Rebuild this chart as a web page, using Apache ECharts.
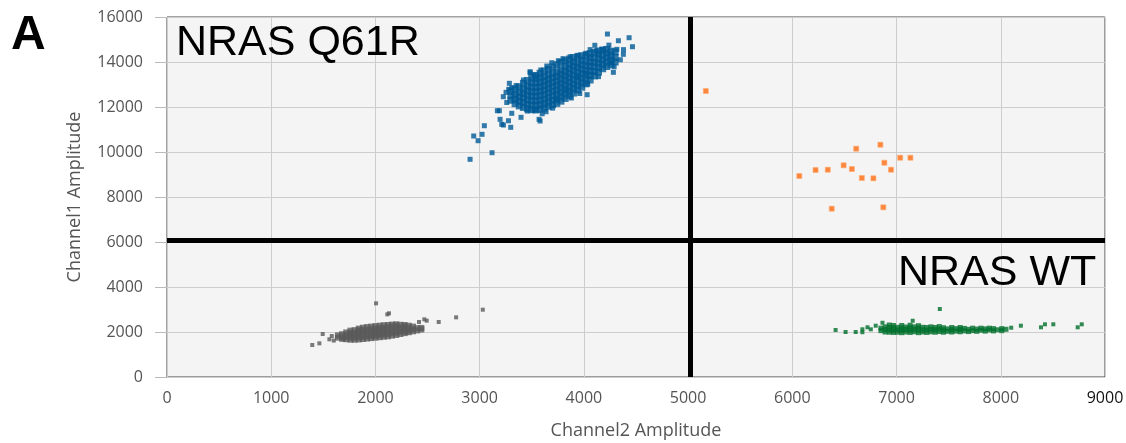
<!DOCTYPE html>
<html>
<head>
<meta charset="utf-8">
<script src="https://cdn.jsdelivr.net/npm/echarts@6/dist/echarts.min.js"></script>
<style>
html,body{margin:0;padding:0;background:#fff;}
#chart{width:1126px;height:443px;}
</style>
</head>
<body>
<div id="chart"></div>
<script>
// ---- axis ticks ----
const xTicks = [0, 1000, 2000, 3000, 4000, 5000, 6000, 7000, 8000, 9000];
const yTicks = [0, 2000, 4000, 6000, 8000, 10000, 12000, 14000, 16000];
const xAxisTitle = 'Channel2 Amplitude';
const yAxisTitle = 'Channel1 Amplitude';
// threshold lines: [Channel2, Channel1]
const thresholds = [5020, 6090];
const labelMut = 'NRAS Q61R';
const labelWt = 'NRAS WT';
const panelLabel = 'A';

// ---- blue cluster (Ch1+ only, NRAS Q61R) ----
// dense core: [channel2, [channel1 values]]
const blueCore = [
 [3300,[12300,12500,12700]],
 [3340,[12150,12350,12550,12800]],
 [3380,[12050,12250,12450,12650,12900]],
 [3420,[11980,12200,12400,12600,12800,13050]],
 [3460,[11920,12120,12320,12520,12720,12920,13180]],
 [3500,[11880,12080,12280,12480,12680,12880,13080,13300]],
 [3540,[11870,12070,12270,12470,12670,12870,13070,13270,13400]],
 [3580,[11900,12100,12300,12500,12700,12900,13100,13300,13500]],
 [3620,[11950,12150,12350,12550,12750,12950,13150,13350,13600]],
 [3660,[12030,12230,12430,12630,12830,13030,13230,13430,13680]],
 [3700,[12100,12300,12500,12700,12900,13100,13300,13500,13780]],
 [3740,[12160,12360,12560,12760,12960,13160,13360,13560,13880]],
 [3780,[12260,12460,12660,12860,13060,13260,13460,13660,13980]],
 [3820,[12380,12580,12780,12980,13180,13380,13580,13800,14060]],
 [3860,[12500,12700,12900,13100,13300,13500,13700,13900,14130]],
 [3900,[12620,12820,13020,13220,13420,13620,13820,14000,14200]],
 [3940,[12750,12950,13150,13350,13550,13750,13950,14230]],
 [3980,[12880,13080,13280,13480,13680,13880,14080,14280]],
 [4020,[13030,13230,13430,13630,13830,14030,14300]],
 [4060,[13200,13400,13600,13800,14000,14200,14370]],
 [4100,[13380,13580,13780,13980,14180,14420]],
 [4140,[13550,13750,13950,14150,14350,14490]],
 [4180,[13700,13900,14100,14300,14530]],
 [4220,[13800,14000,14200,14400,14560]],
 [4260,[13880,14080,14280,14480]],
 [4300,[14000,14200,14450]]
];
const blueSparse = [
 [2908,9675],[3119,9968],[2943,10711],[2985,10502],[3023,10786],[3045,11168],
 [4226,15243],[4434,15079],[4466,14679],[4331,14946],[4105,14742],[4031,12546],
 [4037,13021],[4283,13541],[4379,14341],[3285,13052],[3227,12457],[3189,11835],
 [3212,11230],[3298,11097],[3580,11377],[3692,13968],[3484,13524],[3170,11835],
 [3196,11452],[3228,11199],[3276,11390],[3308,11719],[3397,11541],[3458,11821],
 [3525,11866],[3570,11452],[3637,11790],[3253,12652],[3279,12786],[3308,12857],
 [3484,13568],[3586,13643],[3644,13821],[3755,14057],[3868,14235],[3941,14297],
 [4018,14386],[4117,14501],[4181,14563],[4268,13968],[4290,13790],[4316,14563],
 [4028,13497],[3932,13346],[3836,12755],[3740,12311],[3350,12950],[3420,13200],
 [3260,12200],[3600,11700],[3700,11950],[3880,12400],[3960,12600],[4140,13350],
 [4350,14100],[4380,14550],[4240,14750],[4060,14550],[3800,14150],[3520,13420]
];

// ---- orange cluster (double positive) ----
const orangePts = [
 [6067,8933],[6223,9200],[6340,9213],[6492,9408],[6571,9244],[6613,10146],
 [6667,8844],[6778,8830],[6845,10324],[6883,9524],[6947,9213],[7035,9746],
 [7133,9746],[6378,7480],[6873,7541],[5170,12710]
];

// ---- grey cluster (double negative) ----
const greyCore = [
 [1640,[1750,1850]],
 [1680,[1700,1800,1900]],
 [1720,[1680,1780,1880,1980]],
 [1760,[1660,1760,1860,1960,2060]],
 [1800,[1660,1760,1860,1960,2080]],
 [1840,[1670,1770,1870,1970,2070,2150]],
 [1880,[1690,1790,1890,1990,2090,2190]],
 [1920,[1710,1810,1910,2010,2110,2220]],
 [1960,[1730,1830,1930,2030,2130,2240]],
 [2000,[1750,1850,1950,2050,2150,2260]],
 [2040,[1770,1870,1970,2070,2170,2280]],
 [2080,[1790,1890,1990,2090,2190,2300]],
 [2120,[1810,1910,2010,2110,2210,2310]],
 [2160,[1840,1940,2040,2140,2240,2330]],
 [2200,[1870,1970,2070,2170,2270,2340]],
 [2240,[1910,2010,2110,2210,2320]],
 [2280,[1950,2050,2150,2250,2310]],
 [2320,[1990,2090,2190,2280]],
 [2360,[2030,2130,2240]],
 [2400,[2070,2170]],
 [2440,[2110,2180]]
];
const greySparse = [
 [2006,3274],[2114,2785],[2130,2830],[3030,2992],[2774,2652],[2607,2444],
 [2492,2503],[2469,2563],[2418,2444],[2339,2089],[1494,1911],[1394,1422],
 [1462,1496],[1558,1675],[1581,1822],[1692,1675],[1600,1620],[2300,1960]
];

// ---- green cluster (Ch2+ only, NRAS WT) ----
const greenCore = [
 [6850,[2060,2170]],[6890,[2000,2110,2230]],[6930,[1990,2090,2200,2310]],
 [6970,[1980,2080,2190,2290]],[7010,[1990,2100,2210]],[7050,[1970,2070,2180,2290]],
 [7090,[2000,2110,2220]],[7130,[1980,2080,2190,2300]],[7170,[2010,2120,2230]],
 [7210,[1970,2070,2180,2280]],[7250,[2000,2100,2210]],[7290,[1980,2090,2200]],
 [7330,[2010,2120,2230]],[7370,[1990,2100,2200]],[7410,[2020,2130,2240]],
 [7450,[1990,2090,2190]],[7490,[2030,2140]],[7530,[2000,2100,2200]],
 [7570,[2040,2150]],[7610,[2010,2110,2200]],[7650,[2050,2160]],
 [7690,[2020,2120]],[7730,[2060,2170]],[7770,[2030,2130]],[7810,[2080,2170]],
 [7850,[2040,2140]],[7890,[2090,2170]],[7930,[2050,2150]],[7970,[2100]],
 [8010,[2060,2150]],[8050,[2120]]
];
const greenSparse = [
 [7415,3022],[6415,2089],[6511,2000],[6608,2000],[6672,2120],[6672,1990],
 [6721,2209],[6753,2120],[8193,2280],[8386,2209],[8424,2342],[8504,2342],
 [8738,2209],[8777,2342],[7155,2500],[6865,2410],[8100,2190],[6800,2280]
];

function expand(core) {
  const out = [];
  core.forEach(function (c) { c[1].forEach(function (y) { out.push([c[0], y]); }); });
  return out;
}

const chart = echarts.init(document.getElementById('chart'), null, {renderer: 'canvas'});
const labelColor = '#555';
const uiFont = '"Open Sans", "DejaVu Sans", sans-serif';
const plain = function (v) { return String(v); };
const BLUE = '#005a96', GREY = '#5a5a5a', GREEN = '#006f2c';

chart.setOption({
  animation: false,
  backgroundColor: '#ffffff',
  grid: {
    left: 167, right: 21, top: 17, bottom: 66,
    containLabel: false, outerBoundsMode: 'none',
    show: true, backgroundColor: '#f4f4f4', borderColor: '#444', borderWidth: 1
  },
  xAxis: {
    type: 'value', min: xTicks[0], max: xTicks[xTicks.length - 1], interval: 1000,
    name: xAxisTitle, nameLocation: 'middle', nameGap: 45,
    nameTextStyle: {color: labelColor, fontSize: 18, fontFamily: uiFont},
    axisLine: {show: false}, axisTick: {show: false},
    axisLabel: {
      color: labelColor, fontSize: 16, fontFamily: uiFont, margin: 13,
      formatter: function (v) { return v === 9000 ? '{d|' + v + '}' : String(v); },
      rich: {d: {color: '#111', fontSize: 16, fontFamily: uiFont}}
    },
    splitLine: {show: true, lineStyle: {color: '#cdcdcd', width: 1}}
  },
  yAxis: {
    type: 'value', min: yTicks[0], max: yTicks[yTicks.length - 1], interval: 2000,
    name: yAxisTitle, nameLocation: 'middle', nameGap: 83,
    nameTextStyle: {color: labelColor, fontSize: 18, fontFamily: uiFont},
    axisLine: {show: false},
    axisTick: {show: true, length: 12, lineStyle: {color: '#bbb'}},
    axisLabel: {color: labelColor, fontSize: 16, fontFamily: uiFont, margin: 24, formatter: plain},
    splitLine: {show: true, lineStyle: {color: '#cdcdcd', width: 1}}
  },
  series: [
    {
      type: 'scatter', name: 'grey core', data: expand(greyCore),
      symbol: 'rect', symbolSize: 6, itemStyle: {color: GREY},
      markLine: {
        silent: true, symbol: 'none', animation: false,
        label: {show: false},
        lineStyle: {color: '#000', width: 5, type: 'solid'},
        data: [{xAxis: thresholds[0]}, {yAxis: thresholds[1]}]
      }
    },
    {
      type: 'scatter', name: 'grey', data: greySparse,
      symbol: 'rect', symbolSize: 4, itemStyle: {color: GREY}
    },
    {
      type: 'scatter', name: 'blue', data: blueSparse,
      symbol: 'rect', symbolSize: 5, itemStyle: {color: BLUE}
    },
    {
      type: 'scatter', name: 'blue core', data: expand(blueCore),
      symbol: 'rect', symbolSize: 7, itemStyle: {color: BLUE}
    },
    {
      type: 'scatter', name: 'green core', data: expand(greenCore),
      symbol: 'rect', symbolSize: 5, itemStyle: {color: GREEN}
    },
    {
      type: 'scatter', name: 'green', data: greenSparse,
      symbol: 'rect', symbolSize: 4, itemStyle: {color: GREEN}
    },
    {
      type: 'scatter', name: 'orange', data: orangePts,
      symbol: 'rect', symbolSize: 5,
      itemStyle: {color: '#ff6a10', borderColor: 'rgba(255,170,110,0.8)', borderWidth: 1}
    }
  ],
  graphic: [
    {type: 'text', left: 176, top: 22, z: 100,
     style: {text: labelMut, font: '43px "Liberation Sans", Arial, sans-serif', fill: '#000'}},
    {type: 'text', left: 898, top: 252, z: 100,
     style: {text: labelWt, font: '43px "Liberation Sans", Arial, sans-serif', fill: '#000'}},
    {type: 'text', left: 11, top: 12, z: 100,
     style: {text: panelLabel, font: 'bold 48px "Liberation Sans", Arial, sans-serif', fill: '#000'}}
  ]
});
</script>
</body>
</html>
